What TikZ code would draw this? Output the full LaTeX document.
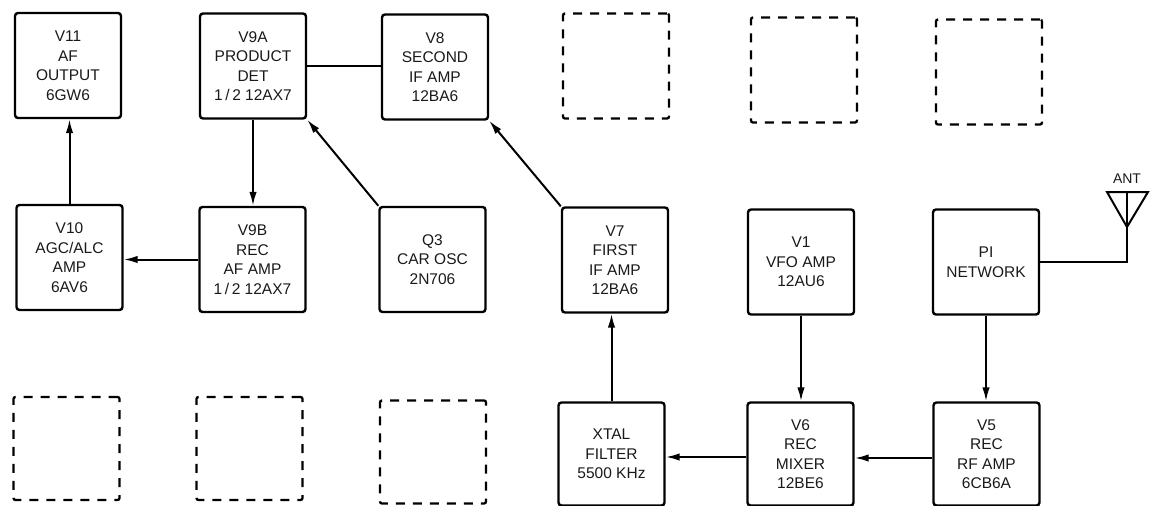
\documentclass[tikz,border=0pt]{standalone}
\usepackage{fontspec}
\setmainfont{Liberation Sans}
\usetikzlibrary{arrows.meta}
\begin{document}
\begin{tikzpicture}[x=1pt,y=-1pt,
  blk/.style={draw, line width=2.4pt, rounded corners=3pt, minimum width=106pt, minimum height=105pt,
    align=center, inner sep=0pt, font=\fontsize{15.5}{19.5}\selectfont, text=black!90},
  ghost/.style={draw, line width=2.3pt, dash pattern=on 9pt off 8pt, rounded corners=2pt,
    minimum width=106pt, minimum height=105pt, inner sep=0pt},
  conn/.style={line width=2pt},
  arr/.style={line width=2pt, -{Latex[length=14pt,width=7.5pt]}}]
\useasboundingbox (0,0) rectangle (1154,506);
% row 1
\node[blk] (V11) at (68,65.5) {V11\\AF\\OUTPUT\\6GW6};
\node[blk] (V9A) at (253,66) {V9A\\PRODUCT\\DET\\1\,/\,2 12AX7};
\node[blk] (V8) at (435,67) {V8\\SECOND\\IF AMP\\12BA6};
\node[ghost] (D1) at (616,66) {};
\node[ghost] (D2) at (804,70) {};
\node[ghost] (D3) at (989,72) {};
% row 2
\node[blk] (V10) at (69.5,257.5) {V10\\AGC/ALC\\AMP\\6AV6};
\node[blk] (V9B) at (252.5,259.5) {V9B\\REC\\AF AMP\\1\,/\,2 12AX7};
\node[blk] (Q3) at (432.5,259.5) {Q3\\CAR OSC\\2N706};
\node[blk] (V7) at (615,260) {V7\\FIRST\\IF AMP\\12BA6};
\node[blk] (V1) at (801,262) {V1\\VFO AMP\\12AU6};
\node[blk] (PI) at (986,262) {PI\\NETWORK};
% row 3
\node[ghost, minimum height=103pt] (E1) at (66.5,448.5) {};
\node[ghost, minimum height=103pt] (E2) at (249.5,448.5) {};
\node[ghost, minimum height=103pt] (E3) at (433,452) {};
\node[blk, minimum height=103pt] (XTAL) at (611.5,454) {XTAL\\FILTER\\5500 KHz};
\node[blk, minimum height=103pt] (V6) at (800.5,454) {V6\\REC\\MIXER\\12BE6};
\node[blk, minimum height=103pt] (V5) at (986.5,454) {V5\\REC\\RF AMP\\6CB6A};
% antenna
\node[font=\fontsize{14}{16}\selectfont, text=black!90] (ANT) at (1127,179) {ANT};
\coordinate (AL) at (1107,192);
\coordinate (AR) at (1148,192);
\coordinate (AT) at (1127,192);
\coordinate (AP) at (1127,227);
\coordinate (AB) at (1127,262);
\draw[conn, line join=miter] (AL) -- (AR) -- (AP) -- cycle;
\draw[conn] (AT) -- (AB) -- (PI.east);
% connectors
\draw[arr] (V10.north) -- (V10.north |- V11.south);
\draw[arr] (V9A.south) -- (V9A.south |- V9B.north);
\draw[arr] (V9B.west) -- (V9B.west -| V10.east);
\draw[arr] (Q3.north west) -- (V9A.south east);
\draw[conn] (V9A.east) -- (V9A.east -| V8.west);
\draw[arr] (V7.north west) -- (V8.south east);
\draw[arr] (XTAL.north) -- (XTAL.north |- V7.south);
\draw[arr] ([yshift=-3pt]V6.west) -- ([yshift=-3pt]V6.west -| XTAL.east);
\draw[arr] ([yshift=-4pt]V5.west) -- ([yshift=-4pt]V5.west -| V6.east);
\draw[arr] (V1.south) -- (V1.south |- V6.north);
\draw[arr] (PI.south) -- (PI.south |- V5.north);
\end{tikzpicture}
\end{document}
